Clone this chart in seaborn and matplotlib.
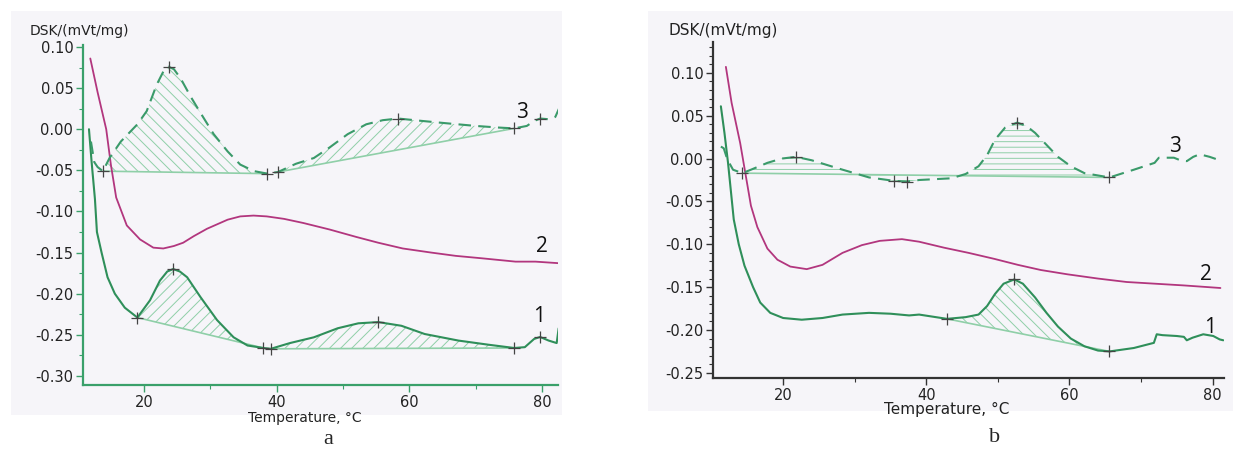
import numpy as np
import matplotlib
matplotlib.use('Agg')
import matplotlib.pyplot as plt
from matplotlib.patches import Rectangle
from matplotlib.ticker import MultipleLocator, FormatStrFormatter
import seaborn as sns

sns.set_style('ticks')
plt.rcParams['font.family'] = ['DejaVu Sans']
plt.rcParams['axes.unicode_minus'] = False
plt.rcParams['hatch.linewidth'] = 0.7

# ---- panel a ----
a1_t = [11.7, 12.1, 12.6, 12.9, 13.6, 14.5, 15.6, 17.1, 19.0, 20.9, 22.4, 23.5, 24.4, 25.4, 26.5,
        28.5, 31.0, 33.5, 35.6, 38.0, 39.1, 42.0, 45.6, 49.2, 52.3, 55.3, 58.8, 62.3, 67.4, 71.9,
        75.8, 77.4, 78.8, 79.7, 81.0, 82.2, 82.5]
a1_v = [0.000, -0.040, -0.085, -0.125, -0.150, -0.180, -0.200, -0.217, -0.229, -0.208, -0.184, -0.173,
        -0.170, -0.173, -0.180, -0.204, -0.232, -0.253, -0.263, -0.266, -0.267, -0.260, -0.253, -0.242,
        -0.236, -0.2345, -0.239, -0.249, -0.257, -0.262, -0.266, -0.265, -0.255, -0.2526, -0.257,
        -0.260, -0.242]

a2_t = [11.9, 13.0, 14.3, 15.0, 15.8, 17.4, 19.4, 21.4, 22.9, 24.5, 25.9, 27.5, 29.5, 32.6, 34.5,
        36.5, 38.5, 41.1, 44.0, 48.0, 52.0, 55.3, 59.0, 63.3, 67.0, 71.0, 76.0, 79.0, 82.7]
a2_v = [0.086, 0.045, 0.000, -0.043, -0.083, -0.117, -0.134, -0.144, -0.145, -0.142, -0.138, -0.130,
        -0.121, -0.110, -0.106, -0.105, -0.106, -0.109, -0.114, -0.122, -0.131, -0.138, -0.145,
        -0.150, -0.154, -0.157, -0.161, -0.161, -0.163]

a3_t = [12.0, 12.5, 13.0, 13.8, 14.8, 16.5, 19.0, 20.4, 21.9, 22.9, 23.7, 24.5, 25.5, 27.0, 28.5,
        30.5, 32.6, 34.5, 36.6, 38.6, 40.2, 42.9, 45.6, 48.0, 50.7, 53.5, 56.0, 58.3, 62.0, 65.9,
        70.0, 73.5, 75.8, 77.7, 78.8, 79.7, 81.2, 82.0, 82.6]
a3_v = [-0.015, -0.040, -0.046, -0.051, -0.035, -0.015, 0.006, 0.022, 0.054, 0.070, 0.076, 0.073,
        0.062, 0.040, 0.020, -0.006, -0.027, -0.043, -0.051, -0.054, -0.052, -0.042, -0.035,
        -0.022, -0.006, 0.006, 0.011, 0.013, 0.010, 0.007, 0.004, 0.002, 0.001, 0.004, 0.010,
        0.013, 0.012, 0.015, 0.026]

a_marks_t = [19.0, 24.4, 38.0, 39.1, 55.3, 75.8, 79.7, 13.8, 23.7, 38.6, 40.2, 58.3, 75.8, 79.7]
a_marks_v = [-0.229, -0.170, -0.266, -0.267, -0.2345, -0.266, -0.2526,
             -0.051, 0.076, -0.054, -0.052, 0.013, 0.001, 0.013]
# shaded peaks: (curve, start, end, hatch)
a_peaks = [('a1', 19.0, 38.0, '///'), ('a1', 39.1, 75.8, '///'),
           ('a3', 13.8, 38.6, '\\\\\\'), ('a3', 40.2, 75.8, '///')]
a_yticks = [-0.30, -0.25, -0.20, -0.15, -0.10, -0.05, 0.00, 0.05, 0.10]

# ---- panel b ----
b1_t = [11.3, 11.8, 12.3, 13.1, 13.8, 14.6, 15.8, 16.8, 18.2, 20.0, 22.6, 25.5, 28.3, 32.0, 35.0,
        37.6, 39.0, 42.9, 45.5, 47.3, 48.5, 49.6, 50.8, 52.3, 53.5, 55.2, 56.8, 58.4, 60.2, 62.1,
        64.0, 65.6, 69.0, 71.8, 72.2, 73.0, 75.0, 76.0, 76.4, 77.2, 78.7, 80.1, 81.0, 81.5]
b1_v = [0.061, 0.030, -0.005, -0.071, -0.100, -0.125, -0.150, -0.168, -0.180, -0.186, -0.188,
        -0.186, -0.182, -0.180, -0.181, -0.183, -0.182, -0.187, -0.185, -0.182, -0.172, -0.158,
        -0.146, -0.141, -0.146, -0.162, -0.180, -0.196, -0.210, -0.219, -0.224, -0.225, -0.221,
        -0.215, -0.205, -0.206, -0.207, -0.208, -0.212, -0.209, -0.205, -0.207, -0.211, -0.212]

b2_t = [12.0, 12.8, 14.0, 15.5, 16.4, 17.8, 19.2, 21.0, 23.3, 25.5, 28.3, 31.0, 33.5, 36.6, 39.0,
        42.5, 45.9, 49.5, 52.8, 56.0, 59.7, 64.0, 68.0, 72.0, 76.0, 81.1]
b2_v = [0.107, 0.065, 0.018, -0.055, -0.080, -0.105, -0.118, -0.126, -0.129, -0.124, -0.110,
        -0.101, -0.096, -0.094, -0.097, -0.104, -0.110, -0.117, -0.124, -0.130, -0.135, -0.140,
        -0.144, -0.146, -0.148, -0.151]

b3_t = [11.3, 11.7, 12.2, 13.0, 14.3, 15.5, 17.8, 19.8, 21.8, 24.0, 27.5, 32.0, 35.5, 37.3, 39.0,
        43.5, 45.5, 47.3, 48.5, 49.6, 51.0, 52.7, 54.0, 55.2, 56.8, 58.4, 60.2, 62.1, 65.6, 69.0,
        71.9, 72.5, 74.6, 75.5, 76.4, 77.3, 78.2, 79.6, 81.0]
b3_v = [0.014, 0.012, -0.001, -0.013, -0.017, -0.013, -0.005, 0.000, 0.002, -0.002, -0.011,
        -0.022, -0.026, -0.027, -0.025, -0.023, -0.018, -0.009, 0.004, 0.022, 0.036, 0.042,
        0.038, 0.030, 0.016, 0.002, -0.009, -0.017, -0.022, -0.013, -0.005, 0.001, 0.001,
        -0.002, -0.003, 0.002, 0.005, 0.002, -0.002]

b_marks_t = [42.9, 52.3, 65.6, 14.3, 21.8, 35.5, 37.3, 52.7, 65.6]
b_marks_v = [-0.187, -0.141, -0.225, -0.017, 0.002, -0.026, -0.027, 0.042, -0.022]
b_peaks = [('b1', 42.9, 65.6, '\\\\\\'), ('b3', 14.3, 65.6, '---')]
b_yticks = [-0.25, -0.20, -0.15, -0.10, -0.05, 0.00, 0.05, 0.10]

GREEN = '#2f8f5a'
DGREEN = '#3a9a6a'
MAGENTA = '#b2367e'
HATCH = '#8fcfa8'
BG = '#f6f5f9'

curves = {'a1': (a1_t, a1_v), 'a2': (a2_t, a2_v), 'a3': (a3_t, a3_v),
          'b1': (b1_t, b1_v), 'b2': (b2_t, b2_v), 'b3': (b3_t, b3_v)}

W, H = 1233, 454
fig = plt.figure(figsize=(W / 100, H / 100), dpi=100)
fig.patches.append(Rectangle((11 / W, 1 - 415 / H), 551 / W, 404 / H, transform=fig.transFigure,
                             facecolor=BG, edgecolor='none', zorder=-5))
fig.patches.append(Rectangle((648 / W, 1 - 411 / H), 585 / W, 400 / H, transform=fig.transFigure,
                             facecolor=BG, edgecolor='none', zorder=-5))

ax1 = fig.add_axes([83 / W, (H - 385) / H, 475 / W, 340 / H])
ax2 = fig.add_axes([713 / W, (H - 378) / H, 511 / W, 336 / H])


def draw_panel(ax, keys, peaks, mt, mv):
    ax.set_facecolor('none')
    k1, k2, k3 = keys
    for (k, t0, t1, hatch) in peaks:
        t, v = curves[k]
        seg = [(x, y) for x, y in zip(t, v) if t0 <= x <= t1]
        xs = [p[0] for p in seg]
        ys = [p[1] for p in seg]
        ax.fill(xs, ys, facecolor='none', edgecolor=HATCH, hatch=hatch, linewidth=0, zorder=1)
        ax.plot([xs[0], xs[-1]], [ys[0], ys[-1]], color=HATCH, lw=1.2, zorder=1.5)
    sns.lineplot(x=curves[k1][0], y=curves[k1][1], ax=ax, color=GREEN, lw=1.5, sort=False, zorder=3)
    sns.lineplot(x=curves[k2][0], y=curves[k2][1], ax=ax, color=MAGENTA, lw=1.3, sort=False, zorder=3)
    sns.lineplot(x=curves[k3][0], y=curves[k3][1], ax=ax, color=DGREEN, lw=1.5, sort=False,
                 linestyle=(0, (6, 3.5)), zorder=3)
    ax.plot(mt, mv, linestyle='none', marker='+', ms=8, mew=0.9, color='#444444', zorder=4)
    sns.despine(ax=ax)
    ax.xaxis.set_major_locator(MultipleLocator(20))
    ax.xaxis.set_minor_locator(MultipleLocator(10))
    ax.yaxis.set_major_formatter(FormatStrFormatter('%.2f'))
    ax.tick_params(which='major', length=5, width=1, labelsize=10.5, labelcolor='#222222', pad=2)
    ax.tick_params(which='minor', length=3, width=0.8)


draw_panel(ax1, ('a1', 'a2', 'a3'), a_peaks, a_marks_t, a_marks_v)
ax1.set_xlim(10.8, 82.4)
ax1.set_ylim(-0.311, 0.1024)
ax1.set_yticks(a_yticks)
ax1.yaxis.set_minor_locator(MultipleLocator(0.025))
for s in ('left', 'bottom'):
    ax1.spines[s].set_color('#3aa06a')
    ax1.spines[s].set_linewidth(1.6)
ax1.tick_params(which='both', color='#3aa06a')

draw_panel(ax2, ('b1', 'b2', 'b3'), b_peaks, b_marks_t, b_marks_v)
ax2.set_xlim(10.2, 81.6)
ax2.set_ylim(-0.256, 0.136)
ax2.set_yticks(b_yticks)
ax2.yaxis.set_minor_locator(MultipleLocator(0.01))
for s in ('left', 'bottom'):
    ax2.spines[s].set_color('#333333')
    ax2.spines[s].set_linewidth(1.6)
ax2.tick_params(which='both', color='#333333')

ax1.set_xlabel('Temperature, °C', fontsize=10, color='#222222')
ax1.xaxis.set_label_coords(0.467, -0.076)
ax2.set_xlabel('Temperature, °C', fontsize=11, color='#222222')
ax2.xaxis.set_label_coords(0.458, -0.072)
ax1.set_ylabel('')
ax2.set_ylabel('')
fig.text(30 / W, 1 - 31 / H, 'DSK/(mVt/mg)', fontsize=10, color='#222222', va='center', ha='left')
fig.text(669 / W, 1 - 31 / H, 'DSK/(mVt/mg)', fontsize=11, color='#222222', va='center', ha='left')

lab = dict(fontsize=15, family='Open Sans', color='#111111', va='center', ha='center')
ax1.text(77.0, 0.020, '3', **lab)
ax1.text(80.0, -0.142, '2', **lab)
ax1.text(79.5, -0.228, '1', **lab)
ax2.text(74.7, 0.014, '3', **lab)
ax2.text(79.1, -0.135, '2', **lab)
ax2.text(79.6, -0.197, '1', **lab)

fig.text(328 / W, 1 - 440 / H, 'a', fontsize=16, family='Liberation Serif', ha='center', va='center')
fig.text(995 / W, 1 - 438 / H, 'b', fontsize=16, family='Liberation Serif', ha='center', va='center')

fig.savefig('out.png', dpi=100)
